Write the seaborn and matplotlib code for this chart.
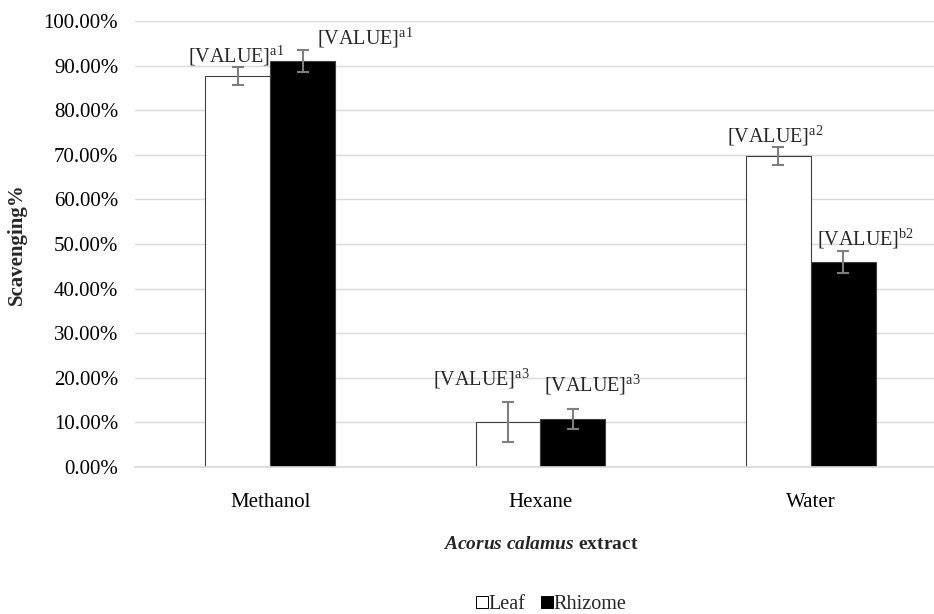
import matplotlib
matplotlib.use("Agg")
import matplotlib.pyplot as plt
from matplotlib.lines import Line2D
from matplotlib.ticker import PercentFormatter
import seaborn as sns
import pandas as pd

# values (fraction of 1)
extracts = ["Methanol", "Hexane", "Water"]
leaf = [0.877, 0.100, 0.698]
rhizome = [0.910, 0.108, 0.460]
leaf_sd = [0.020, 0.045, 0.020]
rhizome_sd = [0.025, 0.023, 0.025]
leaf_letters = ["a1", "a3", "a2"]
rhizome_letters = ["a1", "a3", "b2"]

# label nudges (points), like the hand-moved excel labels
leaf_nudge = [(-1, -1), (-19, 8), (-2, -1)]
rhizome_nudge = [(45, 0), (14, 8), (16, 0)]

df = pd.DataFrame({
    "extract": extracts * 2,
    "value": leaf + rhizome,
    "part": ["Leaf"] * 3 + ["Rhizome"] * 3,
})

sns.set_theme(style="white")
plt.rcParams["font.family"] = ["Liberation Serif", "DejaVu Serif"]
plt.rcParams["mathtext.fontset"] = "custom"
plt.rcParams["mathtext.rm"] = "Liberation Serif"
plt.rcParams["mathtext.it"] = "Liberation Serif:italic"
plt.rcParams["mathtext.bf"] = "Liberation Serif:bold"
plt.rcParams["mathtext.bfit"] = "Liberation Serif:italic:bold"

fig = plt.figure(figsize=(9.34, 6.14), dpi=100)
ax = fig.add_axes([0.1445, 0.2394, 811 / 934, 0.7264])

sns.barplot(data=df, x="extract", y="value", hue="part", order=extracts,
            palette=["white", "black"], width=0.48, gap=0, ax=ax,
            edgecolor="#404040", linewidth=0.8, legend=False)

ax.set_ylim(0, 1.0)
ax.set_xlim(-0.5, 2.5)
ax.set_yticks([i / 10 for i in range(11)])
ax.yaxis.set_major_formatter(PercentFormatter(1.0, decimals=2))
ax.grid(axis="y", color="#d9d9d9", linewidth=1)
ax.set_axisbelow(True)
sns.despine(ax=ax, left=True)
ax.spines["bottom"].set_color("#d9d9d9")
ax.tick_params(axis="both", length=0, labelsize=15, colors="black")
ax.tick_params(axis="x", pad=19)
ax.tick_params(axis="y", pad=12)

for cont, vals, sds, letters, nudges in [
        (ax.containers[0], leaf, leaf_sd, leaf_letters, leaf_nudge),
        (ax.containers[1], rhizome, rhizome_sd, rhizome_letters, rhizome_nudge)]:
    xs = [p.get_x() + p.get_width() / 2 for p in cont.patches]
    ax.errorbar(xs, vals, yerr=sds, fmt="none", ecolor="#7f7f7f",
                elinewidth=1.5, capsize=4, capthick=1.5, zorder=5)
    for x, v, s, let, nd in zip(xs, vals, sds, letters, nudges):
        ax.annotate(r"[VALUE]$^{\mathrm{" + let + "}}$", (x, v + s),
                    xytext=nd, textcoords="offset points",
                    ha="center", va="bottom", fontsize=14.5)

ax.set_ylabel("Scavenging%", fontsize=15, fontweight="bold")
ax.yaxis.set_label_coords(-0.133, 0.5)
ax.set_xlabel(r"$\mathbfit{Acorus\ calamus}$ extract", fontsize=14,
              fontweight="bold")
ax.xaxis.set_label_coords(0.5, -0.155)

handles = [Line2D([], [], marker="s", linestyle="none", markersize=8,
                  markerfacecolor=c, markeredgecolor="black", markeredgewidth=0.7)
           for c in ["white", "black"]]
fig.legend(handles, ["Leaf", "Rhizome"], loc="center", bbox_to_anchor=(0.587, 0.016),
           ncol=2, frameon=False, fontsize=14.5, handletextpad=-0.3,
           columnspacing=0.5, handlelength=1.2)

fig.savefig("out.png", dpi=100)
